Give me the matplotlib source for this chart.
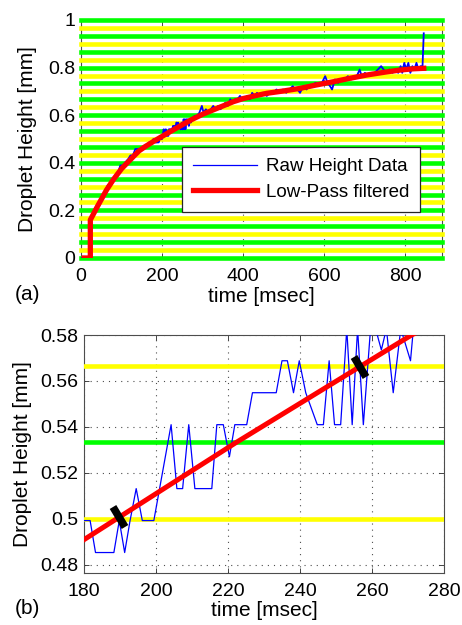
import numpy as np
import matplotlib
matplotlib.use('Agg')
import matplotlib.pyplot as plt
from matplotlib.markers import MarkerStyle
from matplotlib.transforms import Affine2D
from matplotlib.ticker import FormatStrFormatter

plt.rcParams['font.family'] = ['Liberation Sans', 'DejaVu Sans']

# raw droplet height (time in msec, height in mm)
raw_t = [0, 20, 23, 30, 40, 50, 60, 66, 72, 78, 85, 92, 97, 103, 110, 117, 122, 128,
         134, 140, 148, 155, 162, 168, 174, 178.4,
         180.0, 181.7, 183.2, 188.3, 189.8, 191.3, 192.8, 194.5, 196.2, 199.4, 201.0,
         204.2, 205.8, 207.4, 209.1, 210.8, 215.5, 216.9, 218.7, 220.4, 221.9, 225.2,
         226.8, 233.4, 235.0, 236.5, 238.2, 239.8, 241.6, 244.8, 246.5, 248.1, 249.6,
         251.3, 253.0, 254.5, 256.0, 257.6, 259.6, 261.0, 262.6, 264.0, 265.9, 268.0,
         270.7, 271.5,
         280, 286, 292, 298, 302, 308, 314, 320, 326, 332, 338, 344, 350, 356, 362, 368,
         374, 380, 386, 392, 398, 404, 410, 416, 422, 428, 434, 440, 446, 452, 458, 466,
         474, 482, 490, 498, 506, 514, 522, 528, 534, 540, 548, 556, 562, 570, 578, 586,
         594, 602, 608, 614, 619, 626, 634, 642, 650, 658, 666, 672, 680, 687, 692, 700,
         708, 716, 724, 732, 740, 746, 752, 760, 768, 776, 782, 788, 792, 797, 802, 807,
         812, 817, 822, 827, 832, 837, 842, 845]
raw_h = [0.0, 0.0, 0.16, 0.18, 0.222, 0.25, 0.278, 0.306, 0.306, 0.333, 0.347, 0.361,
         0.389, 0.389, 0.403, 0.417, 0.431, 0.431, 0.458, 0.458, 0.458, 0.472, 0.472,
         0.486, 0.486, 0.4993,
         0.4993, 0.4993, 0.4854, 0.4854, 0.4993, 0.4854, 0.4993, 0.5132, 0.4993, 0.4993,
         0.5132, 0.541, 0.5132, 0.5132, 0.541, 0.5132, 0.5132, 0.541, 0.541, 0.5271,
         0.541, 0.541, 0.5549, 0.5549, 0.5688, 0.5688, 0.5549, 0.5688, 0.5549, 0.541,
         0.541, 0.5688, 0.541, 0.541, 0.5827, 0.541, 0.5827, 0.541, 0.5827, 0.5827,
         0.5735, 0.5827, 0.5549, 0.5827, 0.5688, 0.5827,
         0.5966, 0.5966, 0.611, 0.639, 0.611, 0.625, 0.611, 0.625, 0.639, 0.625, 0.639,
         0.625, 0.639, 0.653, 0.639, 0.667, 0.653, 0.667, 0.667, 0.681, 0.667, 0.667,
         0.681, 0.667, 0.694, 0.681, 0.694, 0.681, 0.694, 0.694, 0.681, 0.694, 0.694,
         0.708, 0.694, 0.708, 0.694, 0.708, 0.722, 0.708, 0.708, 0.694, 0.722, 0.708,
         0.722, 0.722, 0.736, 0.722, 0.736, 0.764, 0.736, 0.722, 0.708, 0.75, 0.736,
         0.75, 0.75, 0.764, 0.75, 0.764, 0.764, 0.792, 0.764, 0.778, 0.764, 0.778, 0.778,
         0.792, 0.806, 0.792, 0.778, 0.792, 0.778, 0.792, 0.778, 0.806, 0.778, 0.82,
         0.792, 0.82, 0.778, 0.806, 0.792, 0.82, 0.792, 0.806, 0.806, 0.944]

# low-pass filtered height
filt_t = [8, 23, 23, 40, 63, 80, 100, 129, 143, 160, 180, 222, 271, 300, 340, 376, 400,
          430, 458, 500, 541, 580, 623, 660, 705, 750, 788, 820, 845]
filt_h = [0.0, 0.0, 0.16, 0.215, 0.286, 0.33, 0.375, 0.426, 0.45, 0.47, 0.491, 0.533,
          0.58, 0.604, 0.632, 0.657, 0.67, 0.682, 0.692, 0.702, 0.713, 0.727, 0.741,
          0.754, 0.769, 0.781, 0.79, 0.795, 0.797]

# quantisation levels drawn as stripes, every 1/30 mm, alternating green / yellow
stripe_step = 1.0 / 30
stripe_levels = np.arange(0, 31) * stripe_step
stripe_colors = ['#00ff00', '#ffff00']

# times of the two black marks in panel (b)
mark_t = [189.7, 256.7]


def style_axes(ax, xticks, yticks):
    ax.set_xticks(xticks)
    ax.set_yticks(yticks)
    ax.yaxis.set_major_formatter(FormatStrFormatter('%g'))
    ax.xaxis.set_major_formatter(FormatStrFormatter('%g'))
    ax.tick_params(direction='in', top=True, right=True, length=3.5, width=0.6,
                   labelsize=14, color='0.15')
    ax.tick_params(axis='x', pad=7)
    ax.tick_params(axis='y', pad=4)
    ax.set_axisbelow(True)
    ax.grid(True, color='0.3', linestyle=(0, (1, 4.5)), linewidth=0.8)
    for s in ax.spines.values():
        s.set_color('0.3')
        s.set_linewidth(0.8)


fig = plt.figure(figsize=(4.62, 6.25), dpi=100)
ax1 = fig.add_axes([0.1753, 0.5872, 0.7814, 0.3808])
ax2 = fig.add_axes([0.1818, 0.0832, 0.7792, 0.3808])

# ---- panel (a)
for i, lev in enumerate(stripe_levels):
    ax1.axhline(lev, color=stripe_colors[i % 2], lw=3.3, zorder=2.6, clip_on=False)
ax1.plot(raw_t, raw_h, color='#0000ff', lw=1.3, zorder=3, label='Raw Height Data')
ax1.plot(filt_t, filt_h, color='#ff0000', lw=3.8, zorder=4, label='Low-Pass filtered',
         solid_joinstyle='round')
ax1.set_xlim(0, 890)
ax1.set_ylim(0, 1)
style_axes(ax1, [0, 200, 400, 600, 800], [0, 0.2, 0.4, 0.6, 0.8, 1])
ax1.set_xlabel('time [msec]', fontsize=15, labelpad=2)
ax1.set_ylabel('Droplet Height [mm]', fontsize=15)
ax1.yaxis.set_label_coords(-0.122, 0.5)
leg = ax1.legend(loc='lower left', bbox_to_anchor=(0.28, 0.193), fontsize=13.5,
                 handlelength=3.4, handletextpad=0.45, borderpad=0.6,
                 labelspacing=0.45, borderaxespad=0, fancybox=False, framealpha=1)
leg.get_frame().set_edgecolor('0.15')
leg.get_frame().set_linewidth(0.9)
leg.get_lines()[0].set_linewidth(0.9)
leg.set_zorder(6)

# ---- panel (b)
for i, lev in enumerate(stripe_levels):
    ax2.axhline(lev, color=stripe_colors[i % 2], lw=3.3, zorder=2.6)
ax2.plot(raw_t, raw_h, color='#0000ff', lw=0.9, zorder=3)
ax2.plot(filt_t, filt_h, color='#ff0000', lw=3.6, zorder=4)
ax2.set_xlim(180, 280)
ax2.set_ylim(0.4765, 0.58)
style_axes(ax2, [180, 200, 220, 240, 260, 280], [0.48, 0.5, 0.52, 0.54, 0.56, 0.58])
ax2.set_xlabel('time [msec]', fontsize=15, labelpad=1)
ax2.set_ylabel('Droplet Height [mm]', fontsize=15)
ax2.yaxis.set_label_coords(-0.144, 0.5)

# black marks across the filtered line, drawn perpendicular to it on screen
for t in mark_t:
    h = np.interp(t, filt_t[3:], filt_h[3:])
    p0 = ax2.transData.transform((t - 1, np.interp(t - 1, filt_t[3:], filt_h[3:])))
    p1 = ax2.transData.transform((t + 1, np.interp(t + 1, filt_t[3:], filt_h[3:])))
    ang = np.degrees(np.arctan2(p1[1] - p0[1], p1[0] - p0[0]))
    m = MarkerStyle('|', transform=Affine2D().rotate_deg(ang))
    ax2.plot([t], [h], marker=m, color='black', markersize=17, mew=5.5, zorder=5,
             linestyle='none', solid_capstyle='butt')

fig.text(15 / 462, 1 - 295 / 625, '(a)', fontsize=15, va='center')
fig.text(15 / 462, 1 - 608 / 625, '(b)', fontsize=15, va='center')

fig.savefig('out.png', dpi=100)
